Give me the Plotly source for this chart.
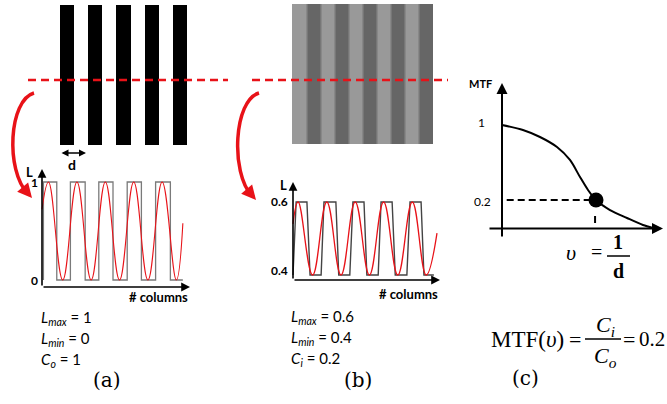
import plotly.graph_objects as go

W, H = 667, 404

# ---------------- data ----------------
# (a) target pattern: luminance of each vertical stripe (black / white)
stripes_a = [0, 1, 0, 1, 0, 1, 0, 1, 0]
# (b) blurred image: luminance of each stripe (light 0.6 / dark 0.4)
stripes_b = [0.6, 0.4, 0.6, 0.4, 0.6, 0.4, 0.6, 0.4, 0.6, 0.4]

# (a) luminance profile along columns (x in periods)
square_a_edges = [0.05, 0.52, 1.0, 1.52, 2.0, 2.5, 3.0, 3.5, 4.0, 4.52]
square_a_end = 4.96
sine_a_x = [0, 0.23, 0.73, 1.23, 1.73, 2.23, 2.73, 3.23, 3.73, 4.23, 4.73, 4.96]
sine_a_y = [0.72, 1, 0, 1, 0, 1, 0, 1, 0, 1, 0, 0.58]

# (b) luminance profile
square_b_x = [0, 0.11, 0.49, 0.6, 0.99, 1.09, 1.51, 1.61, 2.0, 2.11, 2.5, 2.6,
              3.0, 3.1, 3.49, 3.6, 4.01, 4.12, 4.51, 4.61, 4.96]
square_b_y = [0.4, 0.6, 0.6, 0.4, 0.4, 0.6, 0.6, 0.4, 0.4, 0.6, 0.6, 0.4,
              0.4, 0.6, 0.6, 0.4, 0.4, 0.6, 0.6, 0.4, 0.4]
sine_b_x = [0, 0.18, 0.69, 1.19, 1.69, 2.19, 2.69, 3.19, 3.69, 4.2, 4.69, 5.07]
sine_b_y = [0.54, 0.6, 0.4, 0.6, 0.4, 0.6, 0.4, 0.6, 0.4, 0.6, 0.4, 0.515]

# (c) MTF curve
mtf_nu = [0, 0.223, 0.404, 0.585, 0.723, 0.830, 0.915, 1.0, 1.149, 1.330, 1.5, 1.606]
mtf_val = [1.0, 0.947, 0.872, 0.765, 0.627, 0.445, 0.307, 0.2, 0.093, 0.008, -0.067, -0.099]
mtf_point_nu = [1.0]
mtf_point_val = [0.2]

ticks_a = [0, 1]
ticks_b = [0.4, 0.6]
ticks_c = [1, 0.2]

RED = "rgb(232,18,24)"
SANS = "Lato"
SERIF = "DejaVu Serif"
TIMES = "Liberation Serif"


def dx(p0, p1):
    return [p0 / W, p1 / W]


def dy(top, bottom):
    return [1 - bottom / H, 1 - top / H]


fig = go.Figure()

# ---- (a) stripes
fig.add_trace(go.Heatmap(z=[stripes_a], x=list(range(len(stripes_a))), y=[0],
                         colorscale=[[0, "black"], [1, "white"]], zmin=0, zmax=1,
                         showscale=False, hoverinfo="skip", xaxis="x2", yaxis="y2"))
# ---- (b) stripes (each value repeated to get soft edges when smoothed)
rep = 5
zb = [v for v in stripes_b for _ in range(rep)]
fig.add_trace(go.Heatmap(z=[zb], x=list(range(len(zb))), y=[0],
                         colorscale=[[0, "black"], [1, "white"]], zmin=0, zmax=1,
                         zsmooth="best", showscale=False, hoverinfo="skip",
                         xaxis="x4", yaxis="y4"))

# ---- (a) profile
sqx, sqy = [], []
for i, e in enumerate(square_a_edges):
    if i % 2 == 0:
        sqx += [e, e]
        sqy += [0, 1]
    else:
        sqx += [e, e]
        sqy += [1, 0]
sqx.append(square_a_end)
sqy.append(0)
fig.add_trace(go.Scatter(x=sqx, y=sqy, mode="lines", line=dict(color="#7a7a7a", width=1.3),
                         hoverinfo="skip", xaxis="x3", yaxis="y3"))
fig.add_trace(go.Scatter(x=sine_a_x, y=sine_a_y, mode="lines",
                         line=dict(color=RED, width=1.1, shape="spline", smoothing=1.2),
                         hoverinfo="skip", xaxis="x3", yaxis="y3"))

# ---- (b) profile
fig.add_trace(go.Scatter(x=square_b_x, y=square_b_y, mode="lines", line=dict(color="#444444", width=1.4),
                         hoverinfo="skip", xaxis="x5", yaxis="y5"))
fig.add_trace(go.Scatter(x=sine_b_x, y=sine_b_y, mode="lines",
                         line=dict(color=RED, width=1.3, shape="spline", smoothing=1.2),
                         hoverinfo="skip", xaxis="x5", yaxis="y5"))

# ---- (c) MTF
fig.add_trace(go.Scatter(x=[0.05, mtf_point_nu[0]], y=[mtf_point_val[0]] * 2, mode="lines",
                         line=dict(color="black", width=2, dash="7px,4px"),
                         hoverinfo="skip", xaxis="x6", yaxis="y6"))
fig.add_trace(go.Scatter(x=mtf_nu, y=mtf_val, mode="lines",
                         line=dict(color="black", width=2, shape="spline", smoothing=0.8),
                         hoverinfo="skip", xaxis="x6", yaxis="y6"))
fig.add_trace(go.Scatter(x=mtf_point_nu, y=mtf_point_val, mode="markers",
                         marker=dict(color="black", size=15),
                         hoverinfo="skip", xaxis="x6", yaxis="y6"))

hidden = dict(visible=False, fixedrange=True)
layout = dict(
    width=W, height=H, margin=dict(l=0, r=0, t=0, b=0),
    paper_bgcolor="white", plot_bgcolor="rgba(0,0,0,0)", showlegend=False,
    xaxis=dict(domain=[0, 1], range=[0, W], anchor="y", **hidden),
    yaxis=dict(domain=[0, 1], range=[H, 0], anchor="x", **hidden),
    # (a) stripes
    xaxis2=dict(domain=dx(60, 187), range=[-0.5, len(stripes_a) - 0.5], anchor="y2", **hidden),
    yaxis2=dict(domain=dy(5, 145), range=[-0.5, 0.5], anchor="x2", **hidden),
    # (a) profile: px -> (px-42)/28.4 ; value -> 280 - 98 v
    xaxis3=dict(domain=dx(38, 194), range=[(38 - 42) / 28.4, (194 - 42) / 28.4], anchor="y3", **hidden),
    yaxis3=dict(domain=dy(164, 292), range=[(280 - 292) / 98, (280 - 164) / 98], anchor="x3", **hidden),
    # (b) stripes
    xaxis4=dict(domain=dx(292, 433), range=[-0.5, len(zb) - 0.5], anchor="y4", **hidden),
    yaxis4=dict(domain=dy(4, 144), range=[-0.5, 0.5], anchor="x4", **hidden),
    # (b) profile: px -> (px-293)/28.4 ; value -> 275 - 365 (v-0.4)
    xaxis5=dict(domain=dx(289, 444), range=[(289 - 293) / 28.4, (444 - 293) / 28.4], anchor="y5", **hidden),
    yaxis5=dict(domain=dy(176, 290), range=[0.4 + (275 - 290) / 365, 0.4 + (275 - 176) / 365], anchor="x5", **hidden),
    # (c) MTF: px -> (px-502)/94 ; value -> 218.75 - 93.75 v
    xaxis6=dict(domain=dx(484, 667), range=[(484 - 502) / 94, (667 - 502) / 94], anchor="y6", **hidden),
    yaxis6=dict(domain=dy(76, 244), range=[(218.75 - 244) / 93.75, (218.75 - 76) / 93.75], anchor="x6", **hidden),
)
fig.update_layout(**layout)

ann = []


def arrow(x0, y0, x1, y1, ax_, ay_, color="black", width=1.6, size=1.1, side="end"):
    ann.append(dict(x=x1, y=y1, ax=x0, ay=y0, xref=ax_, yref=ay_, axref=ax_, ayref=ay_,
                    text="", showarrow=True, arrowhead=2, arrowsize=size, arrowwidth=width,
                    arrowcolor=color, standoff=0, startstandoff=0, arrowside=side))


def text(t, x, y, size, family=SANS, color="black", xref="x", yref="y", xanchor="center",
         yanchor="middle", xshift=0, yshift=0):
    ann.append(dict(x=x, y=y, xref=xref, yref=yref, text=t, showarrow=False,
                    font=dict(family=family, size=size, color=color),
                    xanchor=xanchor, yanchor=yanchor, xshift=xshift, yshift=yshift))


# axes arrows (a)
ya0 = (280 - 287) / 98
arrow(0, ya0, 0, (280 - 169) / 98, "x3", "y3")
arrow(0, ya0, (190 - 42) / 28.4, ya0, "x3", "y3")
# axes arrows (b)
yb0 = 0.4 + (275 - 280) / 365
arrow(0, yb0, 0, 0.4 + (275 - 182) / 365, "x5", "y5")
arrow(0, yb0, (440 - 293) / 28.4, yb0, "x5", "y5")
# axes arrows (c)
yc0 = (218.75 - 228.5) / 93.75
arrow(0, (218.75 - 238) / 93.75, 0, (218.75 - 83) / 93.75, "x6", "y6", width=2, size=1.1)
arrow((488 - 502) / 94, yc0, (663 - 502) / 94, yc0, "x6", "y6", width=2, size=1.1)

# tick labels
for v in ticks_a:
    text("<b>%g</b>" % v, 0, v, 12, xref="x3", yref="y3", xanchor="right", xshift=-2)
text("<b>0.6</b>", 0, ticks_b[1], 12, xref="x5", yref="y5", xanchor="right", xshift=-3)
text("<b>0.4</b>", 0, ticks_b[0], 12, xref="x5", yref="y5", xanchor="right", xshift=-3, yshift=5)
text("1", 0, ticks_c[0], 12, family=SANS, xref="x6", yref="y6", xanchor="right", xshift=-15, yshift=2)
text("0.2", 0, ticks_c[1], 12, family=SANS, xref="x6", yref="y6", xanchor="right", xshift=-9, yshift=-2)

# axis names
text("<b>L</b>", 29, 172, 13)
text("<b>L</b>", 283, 185, 13)
text("<b># columns</b>", 190, 297, 13, xanchor="right")
text("<b># columns</b>", 440, 294, 13, xanchor="right")
text("<b>MTF</b>", 480, 83, 11)

# d marker
arrow(60, 153, 86, 153, "x", "y", width=1.4, size=1.0, side="end+start")
text("<b>d</b>", 72, 164, 14)

# parameter text
for i, t in enumerate(["<i>L<sub>max</sub></i> = 1", "<i>L<sub>min</sub></i> = 0", "<i>C<sub>o</sub></i> = 1"]):
    text(t, 39, [318, 339, 360][i], 15, xanchor="left")
for i, t in enumerate(["<i>L<sub>max</sub></i> = 0.6", "<i>L<sub>min</sub></i> = 0.4", "<i>C<sub>i</sub></i> = 0.2"]):
    text(t, 289, [317, 338, 359][i], 15, xanchor="left")

# panel labels
text("(a)", 107, 380, 20, family=SERIF)
text("(b)", 358, 380, 20, family=SERIF)
text("(c)", 525, 378, 20, family=SERIF)

# nu = 1/d
text("<i>υ</i>", 571, 252, 22, family=TIMES)
text("=", 596, 252, 20, family=TIMES)
text("<b>1</b>", 618, 242, 20, family=TIMES)
text("<b>d</b>", 618, 271, 20, family=TIMES)

# MTF formula
text("MTF(<i>υ</i>)", 489, 339, 23, family=TIMES, xanchor="left")
text("=", 575, 339, 22, family=TIMES)
text("<i>C<sub>i</sub></i>", 605, 326, 22, family=TIMES)
text("<i>C<sub>o</sub></i>", 605, 357, 22, family=TIMES)
text("=", 629, 339, 22, family=TIMES)
text("0.2", 666, 339, 21, family=TIMES, xanchor="right", xshift=1)

# red curved arrow heads
arrow(26, 191, 32, 198, "x", "y", color=RED, width=3.2, size=0.9)
arrow(250, 193, 256, 200, "x", "y", color=RED, width=3.2, size=0.9)

shapes = []
# red dashed scan line
for x0, x1 in [(28, 228), (252, 448)]:
    shapes.append(dict(type="line", x0=x0, x1=x1, y0=80, y1=80, xref="x", yref="y",
                       line=dict(color=RED, width=2.5, dash="8px,5px")))
# red curved arrows
shapes.append(dict(type="path", path="M 34 93 C 9 100, 5 170, 28 194", xref="x", yref="y",
                   line=dict(color=RED, width=3.5)))
shapes.append(dict(type="path", path="M 259 93 C 234 100, 230 172, 252 196", xref="x", yref="y",
                   line=dict(color=RED, width=3.5)))
# fraction bars
shapes.append(dict(type="line", x0=607, x1=630, y0=256, y1=256, xref="x", yref="y",
                   line=dict(color="black", width=1.5)))
shapes.append(dict(type="line", x0=585, x1=621, y0=339, y1=339, xref="x", yref="y",
                   line=dict(color="black", width=1.3)))
# small tick under the MTF point
shapes.append(dict(type="line", x0=0.99, x1=0.99, y0=(218.75 - 216) / 93.75, y1=(218.75 - 223) / 93.75,
                   xref="x6", yref="y6", line=dict(color="black", width=2)))

fig.update_layout(annotations=ann, shapes=shapes)
fig.write_html("out.html", config={"displayModeBar": False},
               post_script="document.body.style.margin='0';document.body.style.padding='0';")
